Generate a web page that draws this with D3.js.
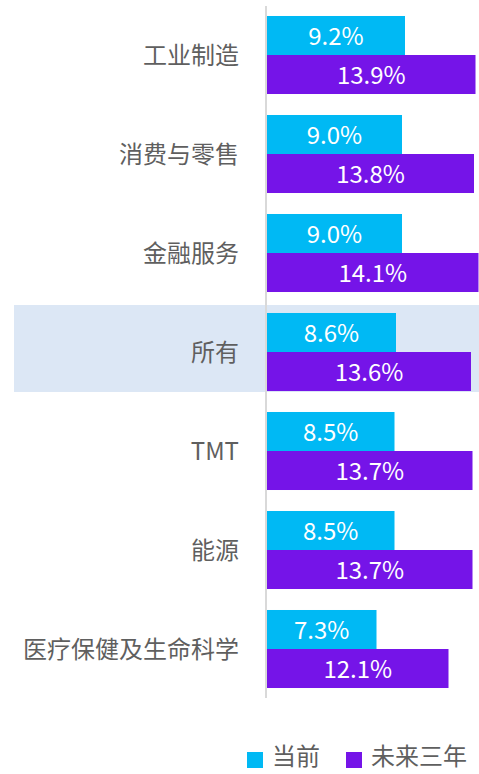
<!DOCTYPE html>
<html><head><meta charset="utf-8">
<script src="https://cdn.jsdelivr.net/npm/d3@7"></script>
<style>body{margin:0;background:#fff}svg{display:block}</style>
</head><body>
<svg id="c" width="479" height="774"></svg>
<script>
const categories = ["工业制造","消费与零售","金融服务","所有","TMT","能源","医疗保健及生命科学"];
const current = [9.2, 9.0, 9.0, 8.6, 8.5, 8.5, 7.3];
const future = [13.9, 13.8, 14.1, 13.6, 13.7, 13.7, 12.1];
const seriesNames = ["当前","未来三年"];
const highlight = "所有";
const colors = ["#00B9F4","#7514E8"];
const font = "'Noto Sans CJK SC','Noto Sans',sans-serif";

const svg = d3.select("#c");
const x = d3.scaleLinear().domain([0, 15]).range([267, 267 + 15*15]);
const y = d3.scaleBand().domain(categories).range([16 - 10.5, 16 - 10.5 + 99*7]).paddingInner(0.212).paddingOuter(0.106);
const sub = d3.scaleBand().domain([0,1]).range([0, y.bandwidth()]);

// highlight band
svg.append("rect").attr("x",14).attr("y",y(highlight)-8).attr("width",479-14).attr("height",y.bandwidth()+9).attr("fill","#DCE7F5");

const data = categories.map((c,i)=>({c, v:[current[i], future[i]]}));
const g = svg.selectAll("g.grp").data(data).enter().append("g").attr("transform",d=>`translate(0,${y(d.c)})`);
[0,1].forEach(k=>{
  g.append("rect").attr("x",x(0)).attr("y",sub(k)).attr("width",d=>x(d.v[k])-x(0)).attr("height",sub.bandwidth()).attr("fill",colors[k]);
  g.append("text").attr("x",d=>(x(0)+x(d.v[k]))/2).attr("y",sub(k)+sub.bandwidth()/2).attr("dy","0.38em")
    .attr("text-anchor","middle").attr("fill","#fff").attr("font-family",font).attr("font-size",24)
    .text(d=>d.v[k].toFixed(1)+"%");
});
g.append("text").attr("x",239).attr("y",y.bandwidth()/2).attr("dy","0.36em").attr("text-anchor","end")
  .attr("fill","#5F5F5F").attr("font-family",font).attr("font-size",24).text(d=>d.c);

// axis line
svg.append("line").attr("x1",266).attr("x2",266).attr("y1",6).attr("y2",698).attr("stroke","#D9D9D9").attr("stroke-width",2);

// legend
const lg = [{n:seriesNames[0],x:247,c:colors[0]},{n:seriesNames[1],x:346,c:colors[1]}];
const L = svg.selectAll("g.lg").data(lg).enter().append("g");
L.append("rect").attr("x",d=>d.x).attr("y",752).attr("width",16).attr("height",16).attr("fill",d=>d.c);
L.append("text").attr("x",d=>d.x+25).attr("y",765).attr("fill","#5F5F5F").attr("font-family",font).attr("font-size",24).text(d=>d.n);
</script>
</body></html>
